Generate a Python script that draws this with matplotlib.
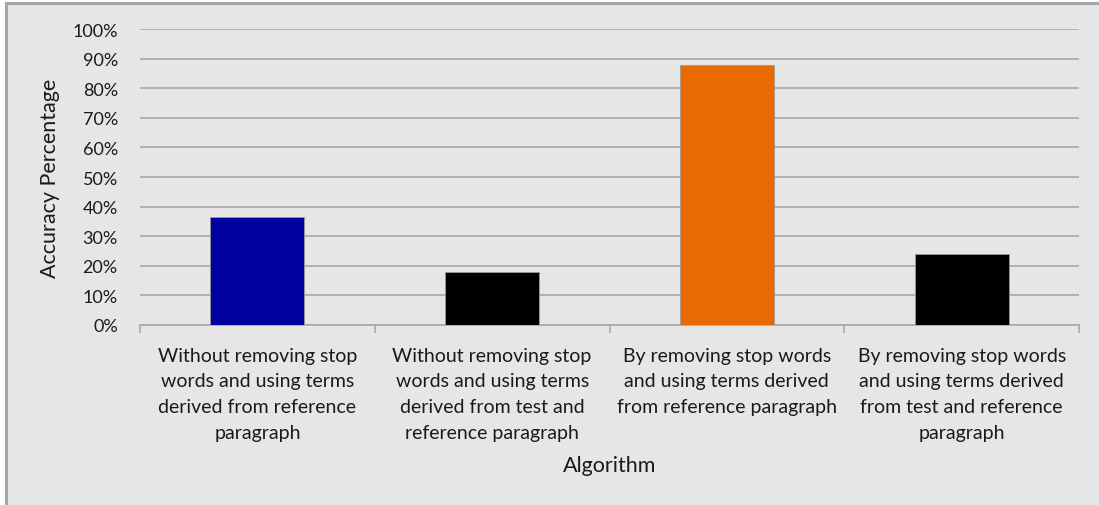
import matplotlib
matplotlib.use("Agg")
import matplotlib.pyplot as plt
from matplotlib.patches import Rectangle
from matplotlib.ticker import FixedLocator, NullFormatter
import numpy as np

# data
categories = [
    "Without removing stop\nwords and using terms\nderived from reference\nparagraph",
    "Without removing stop\nwords and using terms\nderived from test and\nreference paragraph",
    "By removing stop words\nand using terms derived\nfrom reference paragraph",
    "By removing stop words\nand using terms derived\nfrom test and reference\nparagraph",
]
accuracy = [36.4, 18.0, 87.7, 24.1]
bar_colors = ["#0000A0", "#000000", "#E86A00", "#000000"]
y_ticks = list(range(0, 101, 10))

plt.rcParams["font.family"] = ["Lato", "DejaVu Sans"]
BG = "#e6e6e6"
GRID = "#a8a8a8"
TXT = "#1a1a1a"

W, H = 1099, 506
fig = plt.figure(figsize=(W / 100, H / 100), dpi=100)
fig.patch.set_facecolor("white")
# chart area panel with a gray border on left/top (right/bottom run off the image)
fig.patches.append(Rectangle((6 / W, -0.05), 1.1, 1.05 - 4 / H, transform=fig.transFigure,
                             facecolor=BG, edgecolor="#a6a6a6", linewidth=2.2, zorder=-5))

ax = fig.add_axes([140 / W, (H - 326) / H, (1079 - 140) / W, (326 - 30) / H])
ax.patch.set_visible(False)

x = np.arange(len(categories))
ax.bar(x, accuracy, width=0.4, color=bar_colors, edgecolor="#9a9a9a", linewidth=0.6, zorder=3)

ax.set_xlim(-0.5, len(categories) - 0.5)
ax.set_ylim(0, 100)
ax.set_yticks(y_ticks)
ax.set_yticklabels([f"{v}%" for v in y_ticks], fontsize=13, color=TXT)
ax.yaxis.grid(True, color=GRID, linewidth=1.2, zorder=0)
ax.set_axisbelow(True)
ax.tick_params(axis="y", length=0, pad=16)

ax.set_xticks(x)
ax.set_xticklabels(categories, fontsize=14, color=TXT, linespacing=1.62)
ax.xaxis.set_minor_locator(FixedLocator(np.arange(-0.5, len(categories), 1.0)))
ax.xaxis.set_minor_formatter(NullFormatter())
ax.tick_params(axis="x", which="major", length=0, pad=15.5)
ax.tick_params(axis="x", which="minor", length=6, color=GRID, width=1.2, direction="out")

for s in ["top", "right", "left"]:
    ax.spines[s].set_visible(False)
ax.spines["bottom"].set_color(GRID)
ax.spines["bottom"].set_linewidth(1.2)

ax.set_ylabel("Accuracy Percentage", fontsize=15.5, color=TXT)
ax.yaxis.set_label_coords(-80 / 939, 0.5)
ax.set_xlabel("Algorithm", fontsize=15.5, color=TXT, va="center")
ax.xaxis.set_label_coords(0.5, -140 / 296)

fig.savefig("out.png", dpi=100)
